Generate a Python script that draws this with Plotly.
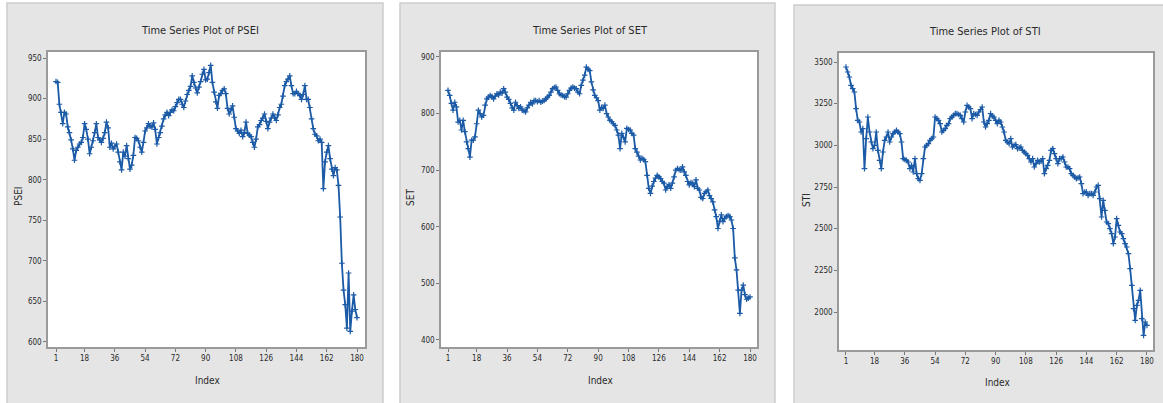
import plotly.graph_objects as go

W, H = 1163, 403

index = list(range(1, 181))
x_ticks = [1, 18, 36, 54, 72, 90, 108, 126, 144, 162, 180]

psei = [
    921, 920, 893, 883, 869, 883, 881, 865, 858, 849,
    838, 824, 836, 840, 844, 846, 852, 869, 862, 850,
    832, 840, 848, 858, 869, 852, 849, 846, 851, 858,
    871, 864, 840, 845, 838, 841, 844, 834, 822, 812,
    834, 829, 842, 826, 813, 818, 830, 852, 851, 848,
    840, 834, 846, 860, 864, 869, 866, 865, 870, 862,
    844, 852, 858, 866, 875, 880, 883, 879, 883, 886,
    885, 890, 895, 899, 899, 893, 889, 897, 905, 910,
    915, 928, 920, 913, 907, 914, 921, 930, 936, 923,
    924, 932, 941, 920, 908, 896, 888, 904, 906, 910,
    912, 906, 888, 881, 886, 891, 877, 863, 860, 857,
    861, 853, 858, 871, 857, 855, 853, 846, 840, 850,
    865, 868, 873, 876, 881, 872, 863, 871, 876, 881,
    877, 873, 880, 889, 893, 903, 916, 921, 924, 928,
    916, 906, 906, 909, 906, 904, 899, 905, 916, 899,
    899, 889, 875, 863, 856, 854, 848, 850, 846, 789,
    822, 834, 842, 826, 813, 805, 815, 812, 793, 754,
    697, 664, 646, 617, 685, 613, 638, 658, 640, 630,
]

set_idx = [
    841, 832, 818, 806, 820, 812, 785, 788, 771, 788,
    768, 750, 738, 723, 753, 753, 759, 782, 806, 800,
    794, 797, 815, 826, 829, 832, 830, 826, 831, 835,
    833, 838, 836, 844, 838, 829, 825, 818, 810, 806,
    820, 814, 809, 812, 806, 805, 803, 810, 815, 820,
    817, 823, 823, 821, 823, 820, 822, 823, 826, 829,
    832, 838, 844, 846, 847, 841, 835, 833, 832, 830,
    829, 835, 841, 845, 847, 845, 844, 838, 835, 850,
    859, 868, 882, 878, 876, 856, 842, 832, 828, 823,
    806, 811, 809, 815, 800, 794, 788, 786, 782, 779,
    771, 762, 738, 765, 758, 750, 774, 772, 771, 765,
    762, 738, 732, 725, 718, 721, 719, 715, 691, 668,
    659, 672, 680, 686, 691, 688, 685, 680, 677, 665,
    671, 674, 668, 677, 688, 700, 703, 701, 700, 706,
    697, 691, 680, 674, 678, 677, 671, 683, 668, 665,
    652, 650, 659, 662, 665, 655, 650, 644, 630, 618,
    597, 610, 621, 609, 615, 618, 620, 618, 612, 597,
    545, 524, 488, 447, 488, 497, 480, 472, 474, 476,
]

sti = [
    3470, 3440, 3410, 3360, 3340, 3320, 3220, 3150, 3140, 3080,
    3100, 2860, 3040, 3170, 3080, 3020, 2980, 3000, 3080, 2970,
    2910, 2860, 2960, 3030, 3050, 3080, 3020, 3050, 3070, 3080,
    3090, 3080, 3070, 3020, 2920, 2915, 2910, 2900, 2860, 2880,
    2840, 2920, 2830, 2800, 2790, 2830, 2920, 2990, 3000, 3010,
    3030, 3040, 3050, 3170, 3160, 3150, 3130, 3080, 3090, 3100,
    3120, 3130, 3160, 3170, 3180, 3190, 3190, 3185, 3180, 3160,
    3140, 3200, 3240, 3230, 3220, 3160, 3190, 3185, 3180, 3200,
    3215, 3230, 3140, 3110, 3130, 3150, 3190, 3175, 3170, 3150,
    3130, 3150, 3140, 3110, 3080, 3030, 3020, 3010, 3040, 2990,
    3000, 3005, 2980, 2985, 2990, 2970, 2960, 2950, 2940, 2920,
    2900, 2920, 2870, 2890, 2910, 2900, 2905, 2920, 2830, 2860,
    2880, 2910, 2970, 2980, 2950, 2920, 2890, 2920, 2920, 2930,
    2900, 2870, 2870, 2860, 2830, 2820, 2810, 2800, 2805, 2810,
    2770, 2710, 2720, 2720, 2700, 2710, 2710, 2700, 2720, 2750,
    2760, 2680, 2570, 2670, 2610, 2540, 2530, 2500, 2470, 2410,
    2450, 2560, 2520, 2480, 2470, 2440, 2410, 2390, 2350, 2260,
    2160, 2020, 1950, 2040, 2070, 2130, 1960, 1860, 1940, 1920,
]

psei_ticks = [600, 650, 700, 750, 800, 850, 900, 950]
set_ticks = [400, 500, 600, 700, 800, 900]
sti_ticks = [2000, 2250, 2500, 2750, 3000, 3250, 3500]

titles = ["Time Series Plot of PSEI", "Time Series Plot of SET", "Time Series Plot of STI"]
ylabels = ["PSEI", "SET", "STI"]

LINE = "#1b5aa6"
TXT = "#2a2a2a"
FONT = "Liberation Sans Narrow, DejaVu Sans Condensed, Arial Narrow, Liberation Sans, sans-serif"


def px(x):
    return x / W


def py(y):
    return 1 - y / H


fig = go.Figure()
series = [psei, set_idx, sti]
for i, s in enumerate(series):
    suffix = "" if i == 0 else str(i + 1)
    fig.add_trace(go.Scatter(
        x=index, y=s, mode="lines+markers",
        line=dict(color=LINE, width=1.8),
        marker=dict(symbol="cross-thin", size=4, line=dict(color=LINE, width=1.2), color=LINE),
        xaxis="x" + suffix, yaxis="y" + suffix, showlegend=False,
    ))

# plot areas in pixels: (x0, x1, y0top, y1bottom)
areas = [(48, 365, 52, 347), (441, 757, 52, 347), (839, 1153, 53, 350)]
xranges = [[-3.76, 184.76], [-3.15, 184.15], [-3.16, 183.6]]
yranges = [[593.8, 957.4], [387.6, 908.8], [1772, 3554]]
yticks = [psei_ticks, set_ticks, sti_ticks]

layout = dict(
    width=W, height=H,
    margin=dict(l=0, r=0, t=0, b=0),
    paper_bgcolor="white", plot_bgcolor="white",
    font=dict(family=FONT, color=TXT, size=8),
    shapes=[], annotations=[],
)

axis_common = dict(
    showgrid=False, zeroline=False, showline=True, mirror=True,
    linecolor="#9a9a9a", linewidth=1.5, ticks="outside", ticklen=3,
    tickcolor="#777777", tickfont=dict(family=FONT, size=8, color=TXT),
)

for i, (x0, x1, y0, y1) in enumerate(areas):
    suffix = "" if i == 0 else str(i + 1)
    layout["xaxis" + suffix] = dict(
        axis_common, domain=[px(x0), px(x1)], range=xranges[i],
        tickvals=x_ticks, ticktext=[str(v) for v in x_ticks],
        anchor="y" + suffix,
    )
    layout["yaxis" + suffix] = dict(
        axis_common, domain=[py(y1), py(y0)], range=yranges[i],
        tickvals=yticks[i], ticktext=[str(v) for v in yticks[i]],
        anchor="x" + suffix,
    )

# grey panels
panels = [(7, 383, 3), (400, 775, 3), (794, 1175, 5)]
for (a, b, t) in panels:
    layout["shapes"].append(dict(
        type="rect", xref="paper", yref="paper", layer="below",
        x0=px(a), x1=px(b), y0=-0.02, y1=py(t),
        fillcolor="#e5e5e5", line=dict(color="#cdcdcd", width=1.5),
    ))
# white data regions on top of the panels
for (x0, x1, y0, y1) in areas:
    layout["shapes"].append(dict(
        type="rect", xref="paper", yref="paper", layer="below",
        x0=px(x0), x1=px(x1), y0=py(y1), y1=py(y0),
        fillcolor="white", line=dict(width=0),
    ))

title_pos = [(200, 30), (590, 30), (985, 32)]
index_pos = [(207, 380), (600, 380), (997, 382)]
ylab_pos = [(18, 197), (410, 198), (806, 200)]
for i in range(3):
    tx, ty = title_pos[i]
    layout["annotations"].append(dict(
        text=titles[i], xref="paper", yref="paper", x=px(tx), y=py(ty),
        showarrow=False, font=dict(family=FONT, size=11, color=TXT),
        xanchor="center", yanchor="middle",
    ))
    ix, iy = index_pos[i]
    layout["annotations"].append(dict(
        text="Index", xref="paper", yref="paper", x=px(ix), y=py(iy),
        showarrow=False, font=dict(family=FONT, size=10, color=TXT),
        xanchor="center", yanchor="middle",
    ))
    lx, ly = ylab_pos[i]
    layout["annotations"].append(dict(
        text=ylabels[i], xref="paper", yref="paper", x=px(lx), y=py(ly),
        showarrow=False, textangle=-90, font=dict(family=FONT, size=10, color=TXT),
        xanchor="center", yanchor="middle",
    ))

fig.update_layout(**layout)
fig.write_html("out.html")
